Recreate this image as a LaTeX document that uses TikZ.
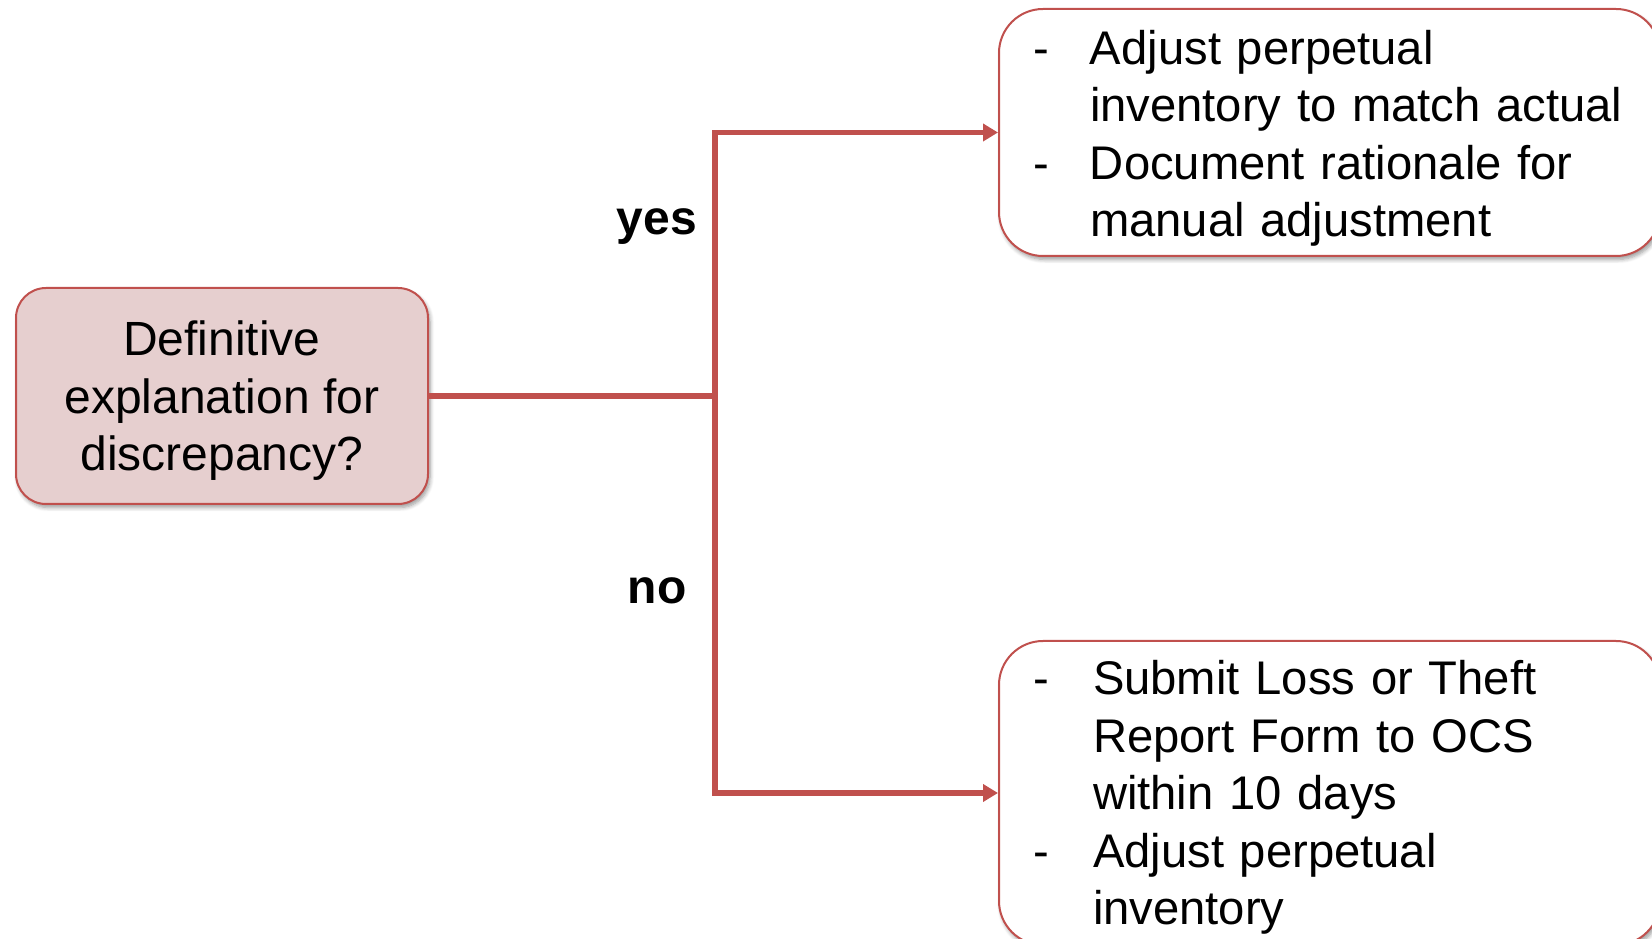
\documentclass[tikz,border=0pt]{standalone}
\usepackage{fontspec}
\setmainfont{Liberation Sans}
\usetikzlibrary{arrows.meta,shadows.blur}
\definecolor{accent}{RGB}{192,80,77}
\definecolor{pinkfill}{RGB}{230,207,207}
\newcommand\bigfont{\fontsize{48}{57.5}\selectfont}
\newcommand\boxfont{\fontsize{47.2}{57.5}\selectfont}
\tikzset{
  shadowed/.style={blur shadow={shadow xshift=2pt,shadow yshift=-3.5pt,shadow blur steps=6,shadow blur radius=4pt,shadow opacity=40}},
  qbox/.style={draw=accent, fill=pinkfill, line width=2pt, rounded corners=30pt, shadowed,
    minimum width=412pt, minimum height=216pt, align=center, font=\bigfont, inner sep=0pt},
  abox/.style={draw=accent, fill=white, line width=2pt, rounded corners=44pt, shadowed,
    text width=593pt, inner xsep=34pt, inner ysep=0pt, minimum width=661pt, align=left, font=\boxfont},
  conn/.style={draw=accent, line width=5.5pt, -{Triangle[length=15pt,width=17pt]}},
  lbl/.style={font=\bigfont\bfseries, inner sep=0pt}
}
\begin{document}
\begin{tikzpicture}[x=1pt,y=1pt]
\useasboundingbox (0,0) rectangle (1652,938);
\clip (0,0) rectangle (1652,938);
\node[qbox] (Q) at (222,542) {\raisebox{-6pt}[\height][\depth]{\begin{tabular}{@{}c@{}}Definitive\\explanation for\\discrepancy?\end{tabular}}};
\node[abox, minimum height=247pt] (T) at (1329.5,805.5)
  {\raisebox{-6.5pt}[\height][\depth]{\begin{tabular}{@{}p{57pt}@{}l@{}}-&Adjust perpetual\\&inventory to match actual\\-&Document rationale for\\&manual adjustment\end{tabular}}};
\node[abox, minimum height=304pt] (B) at (1329.5,145)
  {\raisebox{-5pt}[\height][\depth]{\begin{tabular}{@{}p{60pt}@{}l@{}}-&Submit Loss or Theft\\&Report Form to OCS\\&within 10 days\\-&Adjust perpetual\\&inventory\end{tabular}}};
\coordinate (J) at ([xshift=286pt]Q.east);
\draw[conn] (Q.east) -- (J) |- (T.west);
\draw[conn] (J) |- (B.west);
\node[lbl] (yes) at (657,711) {yes};
\node[lbl] (no) at (657,347) {no};
\end{tikzpicture}
\end{document}
